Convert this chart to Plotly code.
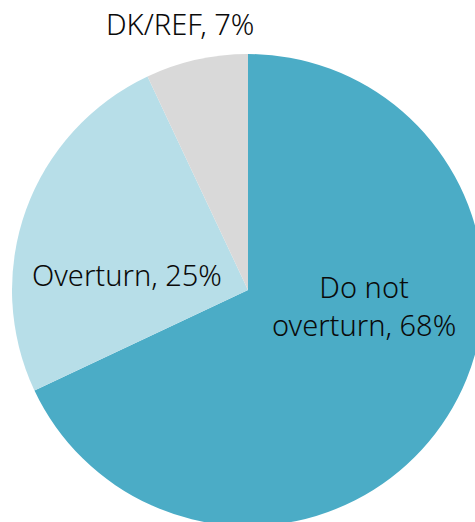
import plotly.graph_objects as go

labels = ["Do not<br>overturn", "Overturn", "DK/REF"]
values = [68, 25, 7]
colors = ["#4BACC6", "#B7DEE8", "#D9D9D9"]

# label anchor positions in pixels (manually placed, like the original)
label_px = [(364, 305), (127, 274), (180, 24)]

W, H = 490, 530
cx, cy, r = 248, 290, 236

fig = go.Figure(go.Pie(
    labels=labels,
    values=values,
    sort=False,
    direction="clockwise",
    rotation=0,
    marker=dict(colors=colors, line=dict(width=0)),
    textinfo="none",
    hoverinfo="label+percent",
    showlegend=False,
    domain=dict(x=[(cx - r) / W, (cx + r) / W], y=[1 - (cy + r) / H, 1 - (cy - r) / H]),
))

total = sum(values)
for lab, val, (px, py) in zip(labels, values, label_px):
    fig.add_annotation(
        text=f"{lab}, {round(100 * val / total)}%",
        x=px / W, y=1 - py / H, xref="paper", yref="paper",
        xanchor="center", yanchor="middle", showarrow=False,
        font=dict(family="Noto Sans", size=29, color="#0a0a0a", weight=300),
    )

fig.update_layout(
    width=W, height=H,
    margin=dict(l=0, r=0, t=0, b=0),
    paper_bgcolor="white",
    plot_bgcolor="white",
)
fig.write_html(
    "out.html",
    config={"displayModeBar": False},
    post_script="document.body.style.margin='0';document.body.style.overflow='hidden';document.documentElement.style.overflow='hidden';",
)
